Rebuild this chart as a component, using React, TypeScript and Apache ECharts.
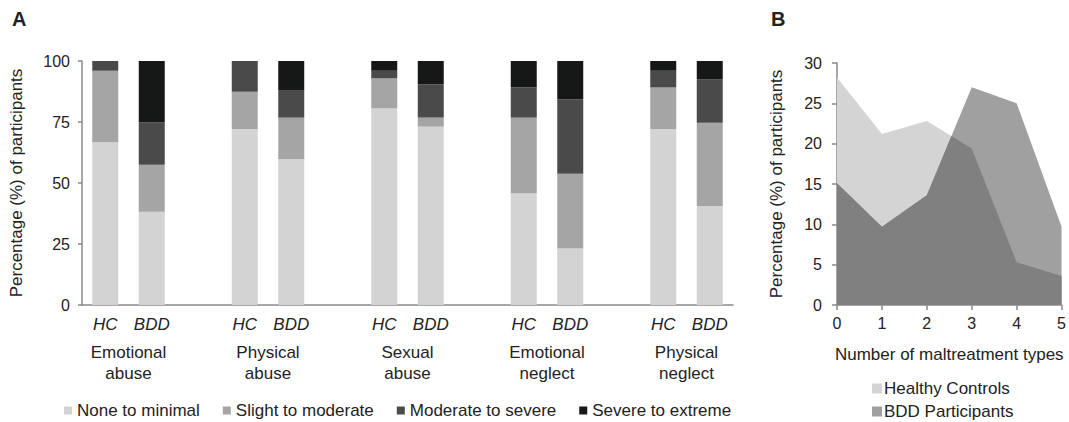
import React, { useEffect, useRef } from "react";
import * as echarts from "echarts";

const FONT = "'Liberation Sans', Arial, Helvetica, sans-serif";
const TEXT = "#222222";
const AXIS = "#8a8a8a";

// Panel A
const maltreatmentTypes = ["Emotional\nabuse", "Physical\nabuse", "Sexual\nabuse", "Emotional\nneglect", "Physical\nneglect"];
const groupLabels = ["HC", "BDD"];
const severityNames = ["None to minimal", "Slight to moderate", "Moderate to severe", "Severe to extreme"];
const severityColors = ["#d3d3d3", "#a4a5a4", "#4a4a4a", "#161817"];
// order: HC, BDD for each maltreatment type
const noneToMinimal = [66.7, 38.2, 72.1, 59.8, 80.6, 73.1, 45.8, 23.2, 72.1, 40.6];
const slightToModerate = [29.3, 19.3, 15.3, 17.0, 12.3, 3.7, 31.0, 30.6, 17.1, 34.1];
const moderateToSevere = [4.0, 17.4, 12.6, 11.3, 3.1, 13.6, 12.4, 30.5, 6.8, 17.8];
const severeToExtreme = [0, 25.1, 0, 11.9, 4.0, 9.6, 10.8, 15.7, 4.0, 7.5];
const yTicksA = [0, 25, 50, 75, 100];

// Panel B
const maltreatmentCounts = [0, 1, 2, 3, 4, 5];
const healthyControls = [28.2, 21.2, 22.8, 19.4, 5.3, 3.6];
const bddParticipants = [15.1, 9.7, 13.6, 27.0, 25.0, 9.7];
const yTicksB = [0, 5, 10, 15, 20, 25, 30];

function toSlots(arr: number[]): (number | null)[] {
  const out: (number | null)[] = [];
  for (let g = 0; g < maltreatmentTypes.length; g++) {
    out.push(arr[2 * g], arr[2 * g + 1]);
    if (g < maltreatmentTypes.length - 1) out.push(null);
  }
  return out;
}

function slotCategories(): string[] {
  const out: string[] = [];
  for (let g = 0; g < maltreatmentTypes.length; g++) {
    out.push(groupLabels[0], groupLabels[1]);
    if (g < maltreatmentTypes.length - 1) out.push("");
  }
  return out;
}

function overlap(a: number[], b: number[], xs: number[]): number[][] {
  const pts: number[][] = [];
  for (let i = 0; i < xs.length; i++) {
    pts.push([xs[i], Math.min(a[i], b[i])]);
    if (i < xs.length - 1) {
      const d0 = a[i] - b[i];
      const d1 = a[i + 1] - b[i + 1];
      if (d0 * d1 < 0) {
        const t = d0 / (d0 - d1);
        pts.push([xs[i] + t * (xs[i + 1] - xs[i]), a[i] + t * (a[i + 1] - a[i])]);
      }
    }
  }
  return pts;
}

export default function App() {
  const ref = useRef<HTMLDivElement>(null);
  useEffect(() => {
    if (!ref.current) return;
    const chart = echarts.init(ref.current, undefined, { renderer: "svg" });
    const sevData = [noneToMinimal, slightToModerate, moderateToSevere, severeToExtreme];
    const groupCenters = maltreatmentTypes.map((_, g) => 3 * g + 1);
    const legendB = (name: string, top: number) => ({
      data: [name],
      orient: "vertical",
      left: 872,
      top,
      icon: "rect",
      itemWidth: 10,
      itemHeight: 10,
      padding: 0,
      textStyle: { fontSize: 17, color: TEXT, fontFamily: FONT, padding: [0, 0, 0, -3] },
    });
    const option: any = {
      animation: false,
      textStyle: { fontFamily: FONT },
      graphic: [
        { type: "text", left: 12, top: 9, style: { text: "A", font: `bold 20px ${FONT}`, fill: TEXT } },
        { type: "text", left: 771, top: 9, style: { text: "B", font: `bold 20px ${FONT}`, fill: TEXT } },
      ],
      legend: [
        {
          data: severityNames,
          left: 64,
          top: 402,
          padding: 0,
          icon: "rect",
          itemWidth: 8,
          itemHeight: 8,
          itemGap: 23,
          textStyle: { fontSize: 17, color: TEXT, fontFamily: FONT },
        },
        legendB("Healthy Controls", 380),
        legendB("BDD Participants", 403),
      ],
      grid: [
        { left: 82, top: 61, width: 651, height: 244 },
        { left: 837, top: 63, width: 227, height: 242 },
      ],
      xAxis: [
        {
          type: "category",
          gridIndex: 0,
          data: slotCategories(),
          axisLine: { lineStyle: { color: AXIS, width: 1.5 } },
          axisTick: { show: false },
          axisLabel: { interval: 0, fontSize: 17, fontStyle: "italic", color: TEXT, margin: 11 },
        },
        {
          type: "value",
          gridIndex: 0,
          min: 0,
          max: 14,
          position: "bottom",
          axisLine: { show: false },
          axisTick: { show: false },
          splitLine: { show: false },
          axisLabel: {
            customValues: groupCenters,
            formatter: (v: number) => maltreatmentTypes[Math.round((v - 1) / 3)] ?? "",
            fontSize: 17,
            lineHeight: 21,
            color: TEXT,
            margin: 37,
          },
        },
        {
          type: "value",
          gridIndex: 1,
          min: 0,
          max: 5,
          interval: 1,
          axisLine: { lineStyle: { color: AXIS, width: 1.5 } },
          axisTick: { show: true, length: 5, lineStyle: { color: AXIS, width: 1.5 } },
          splitLine: { show: false },
          axisLabel: { fontSize: 16, color: TEXT, margin: 10, showMinLabel: true, showMaxLabel: true },
          name: "Number of maltreatment types",
          nameLocation: "middle",
          nameGap: 41,
          nameTextStyle: { fontSize: 17, color: TEXT },
        },
      ],
      yAxis: [
        {
          type: "value",
          gridIndex: 0,
          min: yTicksA[0],
          max: yTicksA[yTicksA.length - 1],
          interval: 25,
          axisLine: { show: true, lineStyle: { color: AXIS, width: 1.5 } },
          axisTick: { show: true, length: 4, lineStyle: { color: AXIS, width: 1.5 } },
          splitLine: { show: false },
          axisLabel: { fontSize: 16, color: TEXT, margin: 12 },
          name: "Percentage (%) of participants",
          nameLocation: "middle",
          nameGap: 57,
          nameTextStyle: { fontSize: 17, color: TEXT },
        },
        {
          type: "value",
          gridIndex: 1,
          min: yTicksB[0],
          max: yTicksB[yTicksB.length - 1],
          interval: 5,
          axisLine: { show: true, lineStyle: { color: AXIS, width: 1.5 } },
          axisTick: { show: true, length: 5, lineStyle: { color: AXIS, width: 1.5 } },
          splitLine: { show: false },
          axisLabel: { fontSize: 16, color: TEXT, margin: 15 },
          name: "Percentage (%) of participants",
          nameLocation: "middle",
          nameGap: 52,
          nameTextStyle: { fontSize: 17, color: TEXT },
        },
      ],
      series: [
        ...severityNames.map((name, i) => ({
          name,
          type: "bar",
          stack: "a",
          xAxisIndex: 0,
          yAxisIndex: 0,
          barWidth: 26,
          data: toSlots(sevData[i]),
          itemStyle: { color: severityColors[i] },
        })),
        {
          name: "Healthy Controls",
          type: "line",
          xAxisIndex: 2,
          yAxisIndex: 1,
          data: maltreatmentCounts.map((c, i) => [c, healthyControls[i]]),
          symbol: "none",
          lineStyle: { width: 0 },
          itemStyle: { color: "#d3d4d3" },
          areaStyle: { color: "#d3d4d3", opacity: 1 },
        },
        {
          name: "BDD Participants",
          type: "line",
          xAxisIndex: 2,
          yAxisIndex: 1,
          data: maltreatmentCounts.map((c, i) => [c, bddParticipants[i]]),
          symbol: "none",
          lineStyle: { width: 0 },
          itemStyle: { color: "#a0a0a0" },
          areaStyle: { color: "#a0a0a0", opacity: 1 },
        },
        {
          name: "Overlap",
          type: "line",
          xAxisIndex: 2,
          yAxisIndex: 1,
          data: overlap(healthyControls, bddParticipants, maltreatmentCounts),
          symbol: "none",
          lineStyle: { width: 0 },
          itemStyle: { color: "#808080" },
          areaStyle: { color: "#808080", opacity: 1 },
          silent: true,
        },
      ],
    };
    chart.setOption(option);
    return () => chart.dispose();
  }, []);
  return <div ref={ref} style={{ position: "absolute", left: 0, top: 0, width: 1069, height: 422 }} />;
}
